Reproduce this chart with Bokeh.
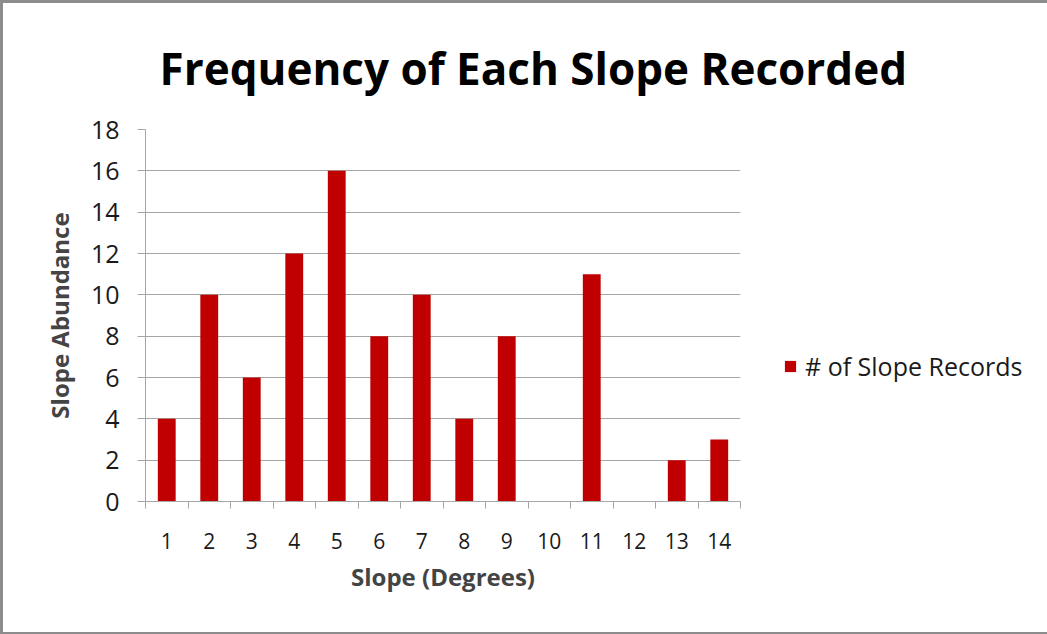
from bokeh.plotting import figure
from bokeh.models import FixedTicker, Legend, LegendItem, ColumnDataSource, Title
from bokeh.embed import file_html
from bokeh.resources import INLINE

categories = ["1", "2", "3", "4", "5", "6", "7", "8", "9", "10", "11", "12", "13", "14"]
counts = [4, 10, 6, 12, 16, 8, 10, 4, 8, 0, 11, 0, 2, 3]
y_ticks = [0, 2, 4, 6, 8, 10, 12, 14, 16, 18]

positions = [i + 1 for i in range(len(categories))]
src = ColumnDataSource(dict(x=positions, top=counts, cat=categories))

p = figure(frame_width=595, frame_height=372, output_backend="svg", toolbar_location=None,
           x_range=(0.5, len(categories) + 0.5), y_range=(0, 18),
           min_border_left=142, min_border_right=0, min_border_top=125, min_border_bottom=131,
           title=None)
p.outline_line_color = None
p.background_fill_color = "white"
p.border_fill_color = "white"

r = p.vbar(x="x", top="top", width=0.42, source=src, fill_color="#c00000", line_color=None)

# x axis
p.xaxis.ticker = FixedTicker(ticks=positions, minor_ticks=[i + 0.5 for i in range(len(categories) + 1)])
p.xaxis.major_label_overrides = {pos: c for pos, c in zip(positions, categories)}
p.xaxis.major_tick_line_color = None
p.xaxis.minor_tick_line_color = "#a6a6a6"
p.xaxis.minor_tick_in = 0
p.xaxis.minor_tick_out = 7
p.xaxis.axis_line_color = "#a6a6a6"
p.xaxis.major_label_text_font = "Open Sans"
p.xaxis.major_label_text_font_size = "21px"
p.xaxis.major_label_text_color = "#1a1a1a"
p.xaxis.major_label_standoff = 24
p.xaxis.axis_label = "Slope (Degrees)"
p.xaxis.axis_label_text_font = "Open Sans"
p.xaxis.axis_label_text_font_style = "bold"
p.xaxis.axis_label_text_font_size = "24px"
p.xaxis.axis_label_standoff = 8

# y axis
p.yaxis.ticker = FixedTicker(ticks=y_ticks)
p.yaxis.minor_tick_line_color = None
p.yaxis.major_tick_line_color = "#a6a6a6"
p.yaxis.major_tick_in = 0
p.yaxis.major_tick_out = 8
p.yaxis.axis_line_color = "#a6a6a6"
p.yaxis.major_label_text_font = "Open Sans"
p.yaxis.major_label_text_font_size = "25px"
p.yaxis.major_label_text_color = "#1a1a1a"
p.yaxis.major_label_standoff = 18
p.yaxis.axis_label = "Slope Abundance"
p.yaxis.axis_label_text_font = "Open Sans"
p.yaxis.axis_label_text_font_style = "bold"
p.yaxis.axis_label_text_font_size = "24px"
p.yaxis.axis_label_standoff = 12

p.xgrid.grid_line_color = None
p.ygrid.grid_line_color = "#a6a6a6"
p.ygrid.ticker = FixedTicker(ticks=y_ticks)

title = Title(text="Frequency of Each Slope Recorded", align="left", offset=14, standoff=64,
              text_font="Open Sans", text_font_style="bold", text_font_size="44px", text_color="black",
              text_line_height=0.9)
p.add_layout(title, "above")

legend = Legend(items=[LegendItem(label="# of Slope Records", renderers=[r])],
                location=(43, 118), border_line_color=None, background_fill_alpha=0,
                label_text_font="Open Sans", label_text_font_size="25px", label_text_color="#1a1a1a",
                glyph_width=14, glyph_height=14, label_standoff=8, margin=0, padding=10)
p.add_layout(legend, "right")

p.styles = {"border": "3px solid #8c8c8c", "box-sizing": "border-box"}

open("out.html", "w").write(file_html(p, INLINE))
